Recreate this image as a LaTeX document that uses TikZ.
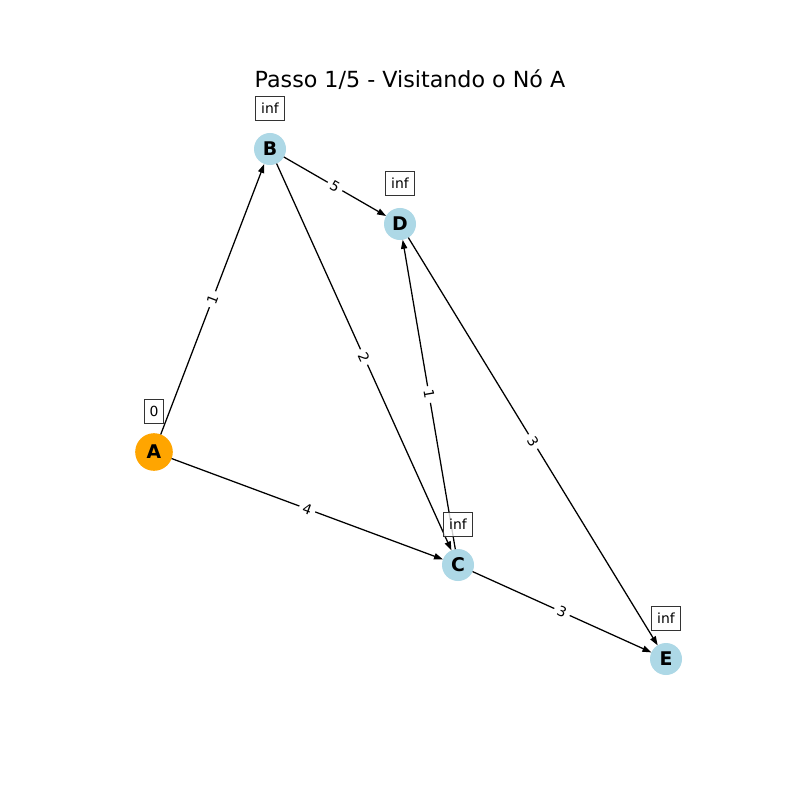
\documentclass[tikz,border=0pt]{standalone}
\usepackage{fontspec}
\setmainfont{DejaVu Sans}
\usepackage{tikz}
\usetikzlibrary{arrows.meta,positioning}
\definecolor{visited}{HTML}{FFA500}
\definecolor{unvisited}{HTML}{ADD8E6}
\definecolor{boxEdge}{HTML}{333333}
\tikzset{
    vertexBase/.style={
        circle,
        draw=none,
        inner sep=0pt,
        outer sep=0pt,
        minimum size=0.8cm,
        font=\fontsize{13.4}{16}\selectfont\bfseries
    },
    % Vertex states
    current/.style={vertexBase, fill=visited, minimum size=0.94cm},
    pending/.style={vertexBase, fill=unvisited},
    % Distance tags
    distTag/.style={
        rectangle,
        draw=boxEdge,
        line width=0.7pt,
        fill=white,
        fill opacity=0.8,
        text opacity=1,
        minimum height=0.62cm,
        inner xsep=3.8pt,
        inner ysep=0pt,
        font=\fontsize{9.9}{12}\selectfont
    }
}
\begin{document}
\begin{tikzpicture}[
    x=0.025cm, y=-0.025cm,
    edge/.style={-{Triangle[length=6.4pt, width=4.4pt]}, line width=0.9pt},
    weight/.style={midway, sloped, fill=white, inner sep=2.8pt, font=\fontsize{9.9}{12}\selectfont}
]
\useasboundingbox[fill=white] (0,0) rectangle (800,800);
\node[anchor=base, font=\fontsize{15.8}{19}\selectfont] (title) at (410,87.5) {Passo 1/5 - Visitando o Nó A};

\node[current] (A) at (154,452) {A};
\node[pending] (B) at (270,149) {B};
\node[pending] (C) at (458,565) {C};
\node[pending] (D) at (400,224) {D};
\node[pending] (E) at (666,659) {E};

\draw[edge] (A) -- node[weight] {1} (B);
\draw[edge] (A) -- node[weight] {4} (C);
\draw[edge] (B) -- node[weight] {5} (D);
\draw[edge] (B) -- node[weight] {2} (C);
\draw[edge] (C) -- node[weight] {1} (D);
\draw[edge] (C) -- node[weight] {3} (E);
\draw[edge] (D) -- node[weight] {3} (E);

\node[distTag, above=0.69cm of A.center] (distA) {0};
\node[distTag, above=0.69cm of B.center] (distB) {inf};
\node[distTag, above=0.69cm of C.center] (distC) {inf};
\node[distTag, above=0.69cm of D.center] (distD) {inf};
\node[distTag, above=0.69cm of E.center] (distE) {inf};
\end{tikzpicture}
\end{document}
